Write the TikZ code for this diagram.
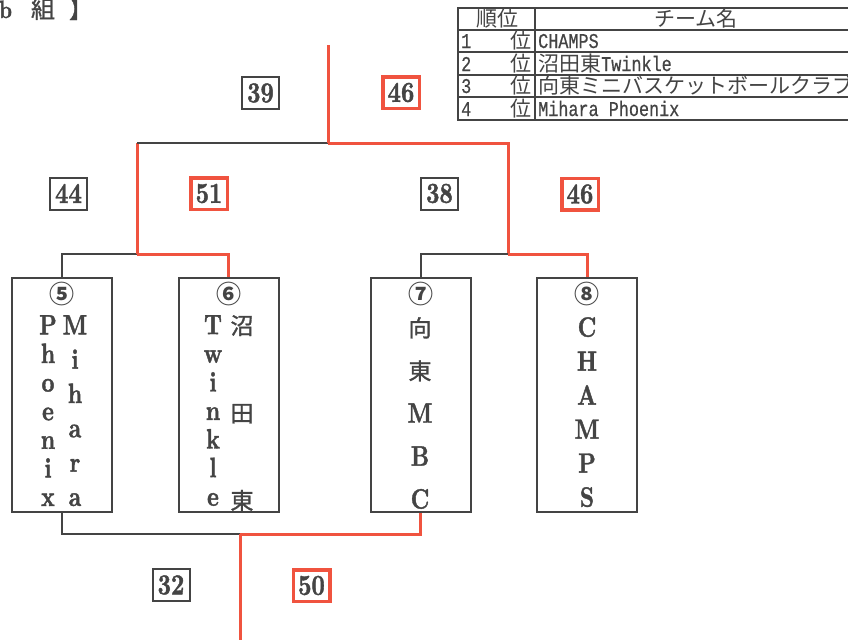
\documentclass[tikz,border=0pt]{standalone}
\usepackage{fontspec}
\newfontfamily\jp{Noto Sans CJK JP}
\newfontfamily\jpm[FakeBold=1.2]{Noto Sans CJK JP}
\newfontfamily\lmb[FakeStretch=0.8, FakeBold=1.4]{lmroman10-bold.otf}
\newfontfamily\tbl[FakeStretch=0.8, FakeBold=0.6]{Liberation Mono}
\definecolor{ink}{HTML}{444444}
\definecolor{win}{HTML}{F0533F}

\begin{document}
\begin{tikzpicture}[x=1pt, y=-1pt, node distance=166.5pt,
  team/.style = {draw=ink, line width=2pt, minimum width=100pt, minimum height=234pt, inner sep=0pt},
  score/.style = {draw=ink, line width=2pt, minimum width=37pt, minimum height=32pt, inner sep=0pt, text=ink, font=\lmb\fontsize{29}{29}\selectfont},
  scorew/.style = {score, draw=win, line width=3.5pt, minimum width=36.5pt, minimum height=31.5pt},
  vtext/.style = {anchor=north, inner sep=0pt, align=center, text=ink},
  num/.style = {inner sep=0pt, text=ink, font=\jp\bfseries\fontsize{25}{25}\selectfont},
  cell/.style = {anchor=base, inner sep=0pt, text=ink, font=\jp\fontsize{21}{21}\selectfont},
  lose/.style = {draw=ink, line width=2pt},
  won/.style = {draw=win, line width=3pt}]
\useasboundingbox (0,0) rectangle (848,640);

% title
\node[anchor=base west, inner sep=0pt, text=ink] (title) at (-1,18) {{\lmb\fontsize{25}{25}\selectfont b}\hspace{19pt}{\jpm\fontsize{24}{24}\selectfont 組\hspace{14pt}】}};

% ranking table
\draw[ink, line width=1.5pt] (458,8) rectangle (857,120);
\draw[ink, line width=1.5pt] (535,8) -- (535,120);
\foreach \y in {30,52,75,97} \draw[ink, line width=1.5pt] (458,\y) -- (857,\y);
\node[cell] (h1) at (497,26.5) {順位};
\node[cell] (h2) at (696,26.5) {チーム名};
\node[cell, anchor=base west] (r1) at (461,48) {\tbl 1};
\node[cell] (w1) at (521,48) {位};
\node[cell, anchor=base west] (m1) at (538,48) {\tbl CHAMPS};
\node[cell, anchor=base west] (r2) at (461,71) {\tbl 2};
\node[cell] (w2) at (521,71) {位};
\node[cell, anchor=base west] (m2) at (538,71) {沼田東{\tbl Twinkle}};
\node[cell, anchor=base west] (r3) at (461,93) {\tbl 3};
\node[cell] (w3) at (521,93) {位};
\node[cell, anchor=base west] (m3) at (538,93) {向東ミニバスケットボールクラブ};
\node[cell, anchor=base west] (r4) at (461,116) {\tbl 4};
\node[cell] (w4) at (521,116) {位};
\node[cell, anchor=base west] (m4) at (538,116) {\tbl Mihara Phoenix};

% teams
\node[team] (5) at (62,395) {};
\node[team] (6) [right of=5] {};
\node[team] (7) [right of=6, node distance=192pt] {};
\node[team] (8) [right of=7] {};

\node[num] (n5) at (62,294) {⑤};
\node[num] (n6) at (228.5,294) {⑥};
\node[num] (n7) at (420.5,294) {⑦};
\node[num] (n8) at (587,294) {⑧};

\node[vtext, font=\lmb\fontsize{28}{28.6}\selectfont] (c5a) at (48,315) {P\\h\\o\\e\\n\\i\\x};
\node[vtext, font=\lmb\fontsize{28}{34.3}\selectfont] (c5b) at (75,315) {M\\i\\h\\a\\r\\a};
\node[vtext, font=\lmb\fontsize{28}{28.6}\selectfont] (c6a) at (213,315) {T\\w\\i\\n\\k\\l\\e};
\node[vtext, font=\jpm\fontsize{23}{87.5}\selectfont] (c6b) at (242,315) {沼\\田\\東};
\node[vtext, font=\lmb\fontsize{28}{43}\selectfont] (c7) at (420,317) {{\jpm\fontsize{23}{43}\selectfont 向}\\{\jpm\fontsize{23}{43}\selectfont 東}\\M\\B\\C};
\node[vtext, font=\lmb\fontsize{28}{34}\selectfont] (c8) at (587,317) {C\\H\\A\\M\\P\\S};

% bracket
\coordinate (top) at (328,45);
\coordinate (f) at (328,143);
\coordinate (fl) at (137,143);
\coordinate (l) at (137,254);
\coordinate (r) at (508,254);
\coordinate (b) at (240,534);
\coordinate (e) at (240,640);

\draw[lose] (5.north) |- (l);
\draw[won] (l) -| (6.north);
\draw[won] (l) -- (fl);
\draw[lose] (fl) -- (f);
\draw[won] (f) -| (r);
\draw[won] (f) -- (top);
\draw[lose] (7.north) |- (r);
\draw[won] (r) -| (8.north);
\draw[lose] (5.south) |- (b);
\draw[won] (b) -| (7.south);
\draw[won] (b) -- (e);

% scores
\node[score] (s1) at (260.5,93) {39};
\node[scorew] (s2) at (401,92.5) {46};
\node[score] (s3) at (68.5,193.5) {44};
\node[scorew] (s4) at (209,193.5) {51};
\node[score] (s5) at (439.5,193.5) {38};
\node[scorew] (s6) at (580,194) {46};
\node[score] (s7) at (171,585) {32};
\node[scorew] (s8) at (311.5,585.5) {50};

\end{tikzpicture}
\end{document}
